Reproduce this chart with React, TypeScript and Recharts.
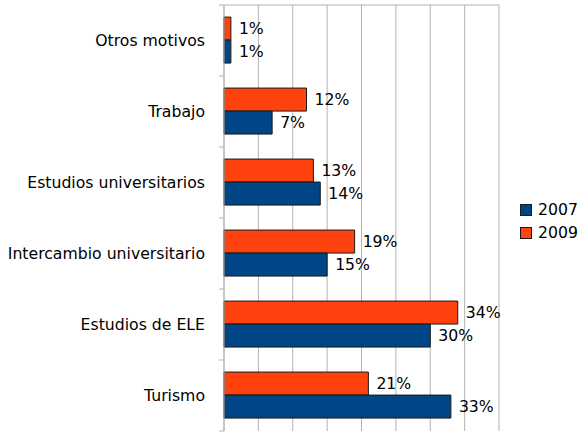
import React from 'react';
import { BarChart, Bar, XAxis, YAxis, CartesianGrid, LabelList, Legend } from 'recharts';

const categories = ['Otros motivos', 'Trabajo', 'Estudios universitarios', 'Intercambio universitario', 'Estudios de ELE', 'Turismo'];
const values2007 = [1, 7, 14, 15, 30, 33];
const values2009 = [1, 12, 13, 19, 34, 21];
const xTicks = [0, 5, 10, 15, 20, 25, 30, 35, 40];
const legendItems = [
  { name: '2007', color: '#004586' },
  { name: '2009', color: '#ff420e' },
];

const data = categories.map((name, i) => ({ name, y2007: values2007[i], y2009: values2009[i] }));

const FONT = 'DejaVu Sans, sans-serif';
const FS = 15.7;
const TICK_MARGIN = 19;

const CatTick = (props: any) => {
  const { x, y, payload, index } = props;
  const half = payload && payload.offset ? payload.offset : 0;
  const ax = x + TICK_MARGIN;
  return (
    <g>
      <line x1={ax - 5} x2={ax} y1={y - half} y2={y - half} stroke="#b3b3b3" />
      {index === categories.length - 1 && (
        <line x1={ax - 5} x2={ax} y1={y + half} y2={y + half} stroke="#b3b3b3" />
      )}
      <text x={x} y={y} dy="0.35em" textAnchor="end" fill="#000" fontSize={FS} fontFamily={FONT}>
        {payload.value}
      </text>
    </g>
  );
};

const LegendContent = () => (
  <div style={{ fontFamily: FONT, fontSize: FS, color: '#000' }}>
    {legendItems.map((it) => (
      <div key={it.name} style={{ display: 'flex', alignItems: 'center', height: 23 }}>
        <span style={{ display: 'inline-block', width: 10, height: 10, background: it.color, border: '1px solid #1a1a1a', marginRight: 6 }} />
        <span>{it.name}</span>
      </div>
    ))}
  </div>
);

export default function App() {
  return (
    <div style={{ position: 'absolute', left: 0, top: 0 }}>
      <BarChart
        width={578}
        height={432}
        data={data}
        layout="vertical"
        margin={{ top: 5, right: 21, bottom: 1, left: 0 }}
        barCategoryGap="17%"
        barGap={0}
      >
        <CartesianGrid
          stroke="#b3b3b3"
          horizontal={true}
          vertical={true}
          horizontalCoordinatesGenerator={({ offset }: any) => [offset.top]}
        />
        <XAxis type="number" domain={[0, 40]} ticks={xTicks} hide />
        <YAxis
          type="category"
          dataKey="name"
          width={224}
          tickLine={false}
          tickSize={0}
          tickMargin={TICK_MARGIN}
          stroke="#b3b3b3"
          tick={<CatTick />}
          interval={0}
        />
        <Legend
          layout="vertical"
          align="right"
          verticalAlign="top"
          content={<LegendContent />}
          wrapperStyle={{ left: 520, top: 198, width: 58 }}
        />
        <Bar dataKey="y2009" name="2009" fill="#ff420e" stroke="#1a1a1a" strokeWidth={1} isAnimationActive={false}>
          <LabelList dataKey="y2009" position="right" offset={8} formatter={(v: any) => `${v}%`} fill="#000" fontSize={FS} fontFamily={FONT} />
        </Bar>
        <Bar dataKey="y2007" name="2007" fill="#004586" stroke="#1a1a1a" strokeWidth={1} isAnimationActive={false}>
          <LabelList dataKey="y2007" position="right" offset={8} formatter={(v: any) => `${v}%`} fill="#000" fontSize={FS} fontFamily={FONT} />
        </Bar>
      </BarChart>
    </div>
  );
}
